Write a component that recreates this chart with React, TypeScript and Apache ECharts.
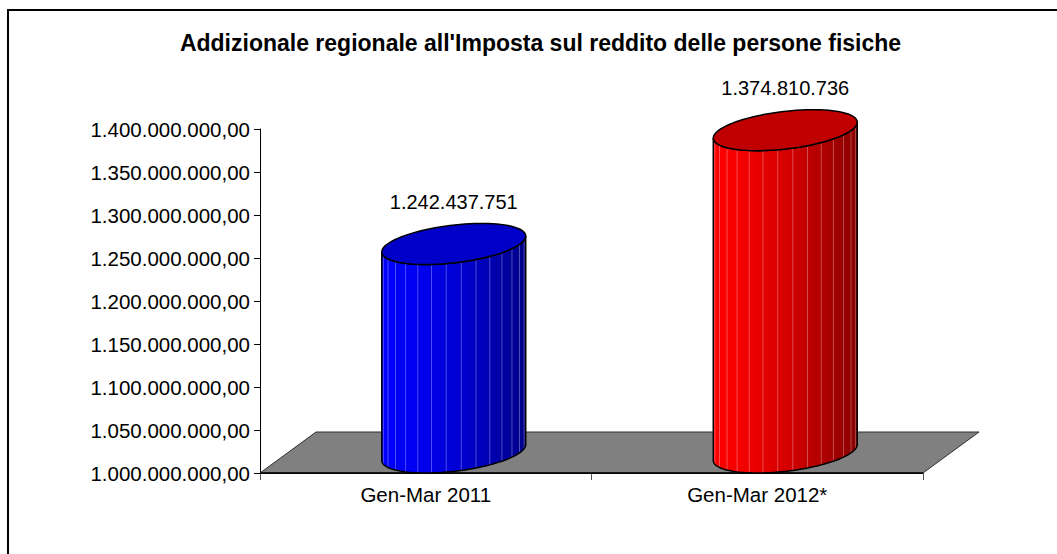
import React, { useEffect, useRef } from "react";
import * as echarts from "echarts";

const TITLE = "Addizionale regionale all'Imposta sul reddito delle persone fisiche";
const CATEGORIES = ["Gen-Mar 2011", "Gen-Mar 2012*"];
const VALUES = [1242437751, 1374810736];
const Y_MIN = 1000000000;
const Y_MAX = 1400000000;
const Y_STEP = 50000000;
const SIDE_COLORS = [
  ["#0000FF", "#0000F4", "#0000D2", "#00008A"],
  ["#FF0000", "#F40000", "#D00000", "#8A0000"],
];
const TOP_COLORS = ["#0000C8", "#C00000"];

const FONT = "'Liberation Sans', Arial, Helvetica, sans-serif";
const DEPTH_X = 56;
const DEPTH_Y = -41;

function groupThousands(n: number): string {
  const s = Math.round(n).toString();
  return s.replace(/\B(?=(\d{3})+(?!\d))/g, ".");
}

export default function App() {
  const ref = useRef<HTMLDivElement>(null);

  useEffect(() => {
    if (!ref.current) return;
    const chart = echarts.init(ref.current, undefined, { renderer: "svg" });

    const floorRender = (params: any) => {
      const cs = params.coordSys;
      const x0 = cs.x;
      const x1 = cs.x + cs.width;
      const y = cs.y + cs.height;
      return {
        type: "group",
        children: [
          {
            type: "polygon",
            shape: {
              points: [
                [x0, y],
                [x1, y],
                [x1 + DEPTH_X, y + DEPTH_Y],
                [x0 + DEPTH_X, y + DEPTH_Y],
              ],
            },
            style: { fill: "#808080", stroke: "#303030", lineWidth: 1 },
          },
          {
            type: "line",
            shape: { x1: x0, y1: y, x2: x1, y2: y },
            style: { stroke: "#000", lineWidth: 1.5 },
          },
        ],
      };
    };

    const cylRender = (params: any, api: any) => {
      const i = api.value(0);
      const v = api.value(1);
      const pTop = api.coord([i, v]);
      const pBot = api.coord([i, Y_MIN]);
      const band = api.size([1, 0])[0];
      const rx = band * 0.2;
      const hx = DEPTH_X / 2;
      const hy = DEPTH_Y / 2;
      const cx = pTop[0] + hx;
      const cyT = pTop[1] + hy;
      const cyB = pBot[1] + hy;
      const pt = (th: number, cy: number) => [
        cx + rx * Math.cos(th) + hx * Math.sin(th),
        cy + hy * Math.sin(th),
      ];
      const th0 = Math.atan2(hx, rx);
      const M = 60;
      const topArc: number[][] = [];
      const botArc: number[][] = [];
      for (let k = 0; k <= M; k++) {
        const th = th0 + Math.PI + (Math.PI * k) / M;
        topArc.push(pt(th, cyT));
        botArc.push(pt(th, cyB));
      }
      const sidePts = topArc.concat(botArc.slice().reverse());
      const cols = SIDE_COLORS[i];
      const children: any[] = [
        {
          type: "polygon",
          shape: { points: sidePts },
          style: {
            fill: {
              type: "linear",
              x: 0,
              y: 0,
              x2: 1,
              y2: 0,
              colorStops: [
                { offset: 0, color: cols[0] },
                { offset: 0.2, color: cols[1] },
                { offset: 0.55, color: cols[2] },
                { offset: 1, color: cols[3] },
              ],
            },
            stroke: "none",
          },
        },
      ];
      const NF = 15;
      for (let k = 1; k < NF; k++) {
        const th = th0 + Math.PI + (Math.PI * k) / NF;
        const a = pt(th, cyT);
        const b = pt(th, cyB);
        children.push({
          type: "line",
          shape: { x1: a[0], y1: a[1], x2: b[0], y2: b[1] },
          style: { stroke: "rgba(255,255,255,0.3)", lineWidth: 1 },
        });
      }
      children.push({
        type: "polygon",
        shape: { points: sidePts },
        style: { fill: "none", stroke: "#000", lineWidth: 1.5 },
      });
      const ell: number[][] = [];
      for (let k = 0; k < 90; k++) {
        ell.push(pt((2 * Math.PI * k) / 90, cyT));
      }
      children.push({
        type: "polygon",
        shape: { points: ell },
        style: { fill: TOP_COLORS[i], stroke: "#000", lineWidth: 1.5 },
      });
      children.push({
        type: "text",
        x: cx,
        y: cyT + hy - 22,
        style: {
          text: groupThousands(v),
          fontSize: 20,
          fontFamily: FONT,
          fill: "#000",
          align: "center",
          verticalAlign: "middle",
          textAlign: "center",
          textVerticalAlign: "middle",
        },
      });
      return { type: "group", children };
    };

    chart.setOption({
      animation: false,
      backgroundColor: "#fff",
      grid: { left: 260, right: 134, top: 129, bottom: 81 },
      graphic: [
        {
          type: "line",
          shape: { x1: 8, y1: 10, x2: 8, y2: 560 },
          style: { stroke: "#000", lineWidth: 2 },
        },
        {
          type: "line",
          shape: { x1: 7, y1: 10, x2: 1060, y2: 10 },
          style: { stroke: "#000", lineWidth: 2 },
        },
        {
          type: "text",
          x: 540.5,
          y: 43,
          style: {
            text: TITLE,
            fontSize: 23,
            fontWeight: "bold",
            fontFamily: FONT,
            fill: "#000",
            align: "center",
            verticalAlign: "middle",
            textAlign: "center",
            textVerticalAlign: "middle",
          },
        },
      ],
      xAxis: {
        type: "category",
        data: CATEGORIES,
        boundaryGap: true,
        axisLine: { show: true, lineStyle: { color: "#000", width: 1 } },
        axisTick: { show: true, length: 7, lineStyle: { color: "#555" } },
        axisLabel: { fontSize: 20.5, fontFamily: FONT, color: "#000", margin: 11 },
        splitLine: { show: false },
      },
      yAxis: {
        type: "value",
        min: Y_MIN,
        max: Y_MAX,
        interval: Y_STEP,
        axisLine: { show: true, lineStyle: { color: "#000", width: 1 } },
        axisTick: { show: true, length: 6, lineStyle: { color: "#000" } },
        axisLabel: {
          fontSize: 20.5,
          fontFamily: FONT,
          color: "#000",
          margin: 10,
          formatter: (v: number) => groupThousands(v) + ",00",
        },
        splitLine: { show: false },
      },
      series: [
        {
          type: "custom",
          name: "floor",
          z: 1,
          renderItem: floorRender,
          data: [[0, Y_MIN]],
          encode: { x: 0, y: 1 },
          silent: true,
        },
        {
          type: "custom",
          name: "values",
          z: 3,
          renderItem: cylRender,
          data: VALUES.map((v, i) => [i, v]),
          encode: { x: 0, y: 1 },
        },
      ],
    });

    return () => chart.dispose();
  }, []);

  return (
    <div
      ref={ref}
      style={{ position: "fixed", left: 0, top: 0, width: 1057, height: 554 }}
    />
  );
}
